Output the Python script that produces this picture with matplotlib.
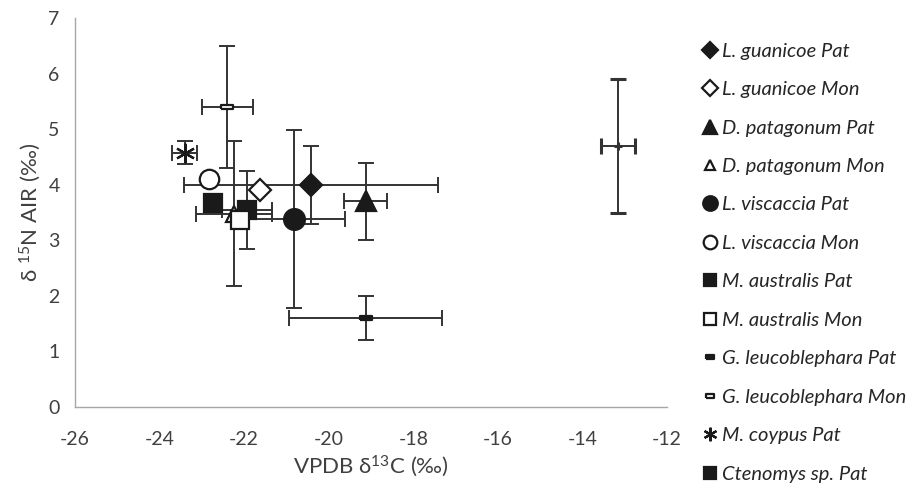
import numpy as np
import matplotlib
matplotlib.use("Agg")
import matplotlib.pyplot as plt
from matplotlib.path import Path

plt.rcParams['font.family'] = ['Lato', 'DejaVu Sans']
plt.rcParams['mathtext.fontset'] = 'custom'
plt.rcParams['mathtext.rm'] = 'Lato'
plt.rcParams['mathtext.default'] = 'regular'
plt.rcParams['axes.unicode_minus'] = False

# data
labels = ["L. guanicoe Pat", "L. guanicoe Mon", "D. patagonum Pat", "D. patagonum Mon",
          "L. viscaccia Pat", "L. viscaccia Mon", "M. australis Pat", "M. australis Mon",
          "G. leucoblephara Pat", "G. leucoblephara Mon", "M. coypus Pat", "Ctenomys sp. Pat"]
d13c = [-20.42, -21.63, -19.13, -22.23, -20.82, -22.82, -21.93, -22.11, -19.13, -22.40, -23.41, -22.73]
d15n = [4.0, 3.9, 3.7, 3.48, 3.38, 4.1, 3.54, 3.37, 1.6, 5.4, 4.58, 3.68]
c_err = [3.0, 0, 0.5, 0.9, 1.2, 0, 0.6, 0, 1.8, 0.6, 0.3, 0]
n_err = [0.7, 0, 0.7, 1.3, 1.6, 0, 0.7, 0, 0.4, 1.1, 0.2, 0]

# extra point on the right, not in legend
extra_c, extra_n = -13.15, 4.7
extra_c_err, extra_n_err = 0.4, 1.2

dash = Path([(-1, -0.4), (1, -0.4), (1, 0.4), (-1, 0.4), (-1, -0.4)])
styles = [
    dict(marker='D', ms=11, mfc='#1a1a1a'),
    dict(marker='D', ms=11, mfc='white'),
    dict(marker='^', ms=15, mfc='#1a1a1a'),
    dict(marker='^', ms=11, mfc='white'),
    dict(marker='o', ms=15, mfc='#1a1a1a'),
    dict(marker='o', ms=14, mfc='white'),
    dict(marker='s', ms=13, mfc='#1a1a1a'),
    dict(marker='s', ms=13, mfc='white'),
    dict(marker=dash, ms=8, mfc='#1a1a1a'),
    dict(marker=dash, ms=8, mfc='white'),
    dict(marker=(6, 2, 0), ms=14, mfc='#1a1a1a'),
    dict(marker='s', ms=13, mfc='#1a1a1a'),
]

fig = plt.figure(figsize=(9.17, 4.9), dpi=100)
ax = fig.add_axes([0.0818, 0.1694, 0.6456, 0.7936])

ecol = '#333333'
handles = []
for i in range(len(labels)):
    xe = c_err[i] if c_err[i] > 0 else None
    ye = n_err[i] if n_err[i] > 0 else None
    if xe is not None or ye is not None:
        ax.errorbar(d13c[i], d15n[i], xerr=xe, yerr=ye, fmt='none', ecolor=ecol,
                    elinewidth=1.4, capsize=6, capthick=1.4, zorder=2)
    h, = ax.plot(d13c[i], d15n[i], linestyle='none', mec='#1a1a1a', mew=1.6,
                 zorder=3 + i * 0.01, **styles[i])
    handles.append(h)

ax.errorbar(extra_c, extra_n, xerr=extra_c_err, yerr=extra_n_err, fmt='+', color=ecol,
            ms=6, mew=2.2, elinewidth=1.4, capsize=6, capthick=1.4, zorder=2)

ax.set_xlim(-26, -12)
ax.set_ylim(0, 7)
ax.set_xticks(np.arange(-26, -11, 2))
ax.set_yticks(np.arange(0, 8, 1))
ax.tick_params(length=0, labelsize=14, labelcolor='#404040')
ax.tick_params(axis='x', pad=17)
ax.tick_params(axis='y', pad=11)
for s in ['top', 'right']:
    ax.spines[s].set_visible(False)
for s in ['left', 'bottom']:
    ax.spines[s].set_color('#a6a6a6')
    ax.spines[s].set_linewidth(1)

ax.set_xlabel(r'VPDB δ$^{13}$C (‰)', fontsize=16, color='#404040', labelpad=4)
ax.set_ylabel(r'δ $^{15}$N AIR (‰)', fontsize=16, color='#404040', labelpad=4)

leg = fig.legend(handles, labels, loc='upper left', bbox_to_anchor=(0.748, 0.95),
                 frameon=False, markerscale=0.7, handlelength=0.6, handletextpad=0.3,
                 labelspacing=1.06, prop=dict(family=['Lato', 'DejaVu Sans'], style='italic', size=14.5))
for t in leg.get_texts():
    t.set_color('#262626')

fig.savefig('out.png', dpi=100)
